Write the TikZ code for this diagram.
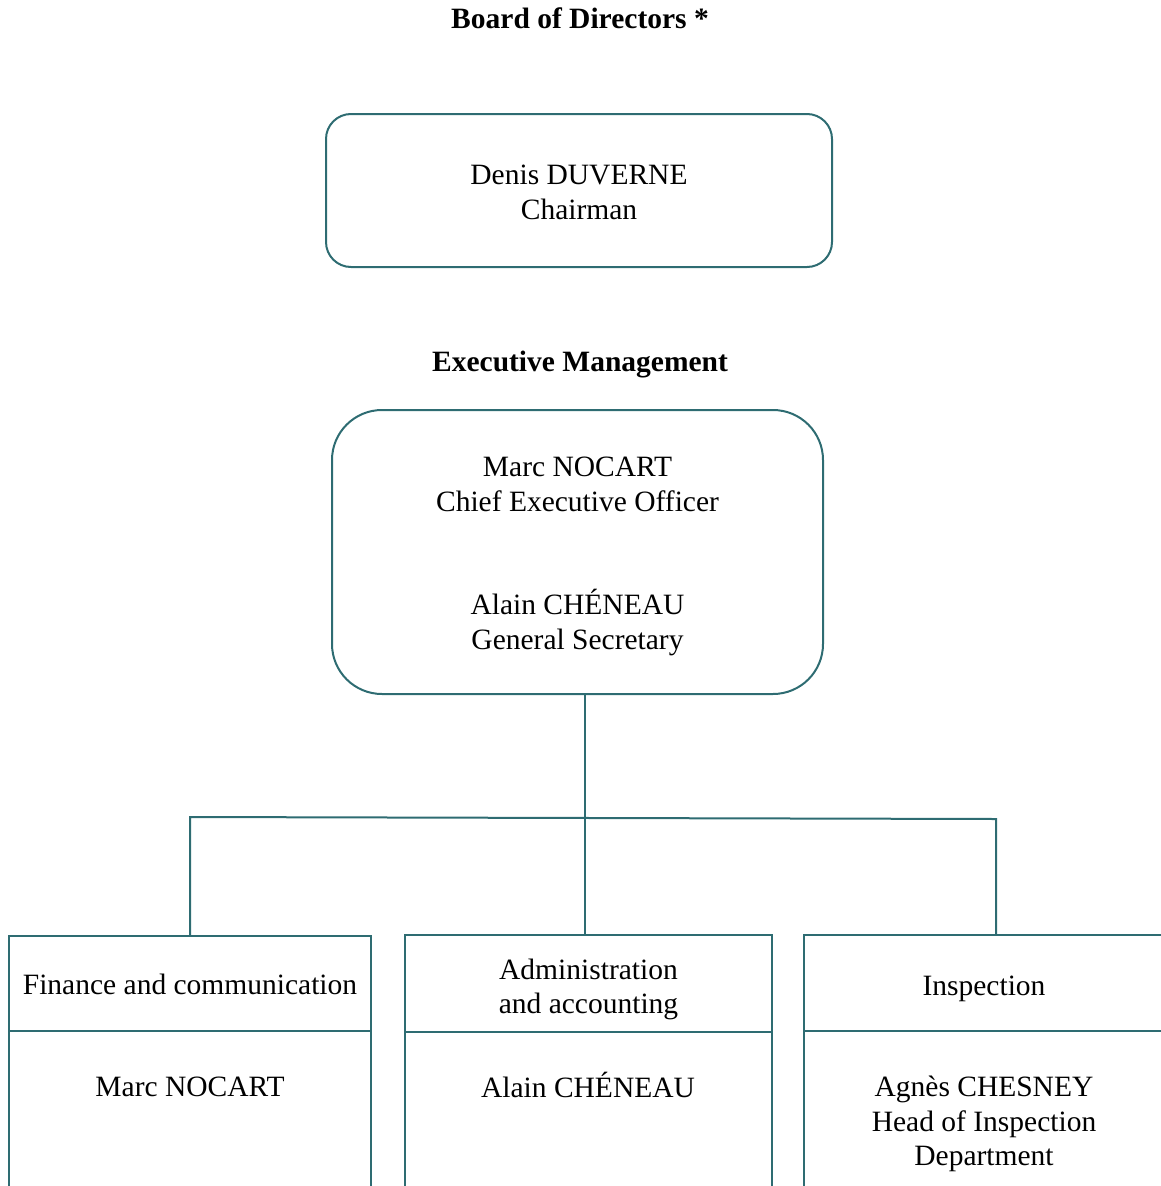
\documentclass[tikz,border=0pt]{standalone}
\usepackage{fontspec}
\setmainfont{Liberation Serif}
\definecolor{lineteal}{RGB}{46,108,114}
\begin{document}
\begin{tikzpicture}[x=1pt,y=-1pt,
  txt/.style={font=\fontsize{29.5}{34.8}\selectfont, align=center, inner sep=0pt},
  ttl/.style={font=\fontsize{29.5}{34.8}\selectfont\bfseries, align=center, inner sep=0pt},
  boxline/.style={draw=lineteal, line width=2pt},
  rbox/.style={boxline, rounded corners=#1},
  sbox/.style={boxline}]
\useasboundingbox (0,0) rectangle (1161,1186);
\clip (0,0) rectangle (1161,1186);

\node[ttl] (board) at (580,18) {Board of Directors *};
\node[rbox=25pt, minimum width=506pt, minimum height=153pt] (chair) at (579,190.5) {};
\node[txt] (chairtxt) at ([yshift=-2pt]chair.center) {Denis DUVERNE\\Chairman};

\node[ttl] (exec) at (580,365) {Executive Management};
\node[rbox=50pt, minimum width=491pt, minimum height=284pt] (ceo) at (577.5,552) {};
\node[txt] (ceotxt) at ([yshift=-4.5pt]ceo.center)
  {Marc NOCART\\Chief Executive Officer\\[69pt]Alain CH\'ENEAU\\General Secretary};

% bottom boxes
\node[sbox, minimum width=362pt, minimum height=95pt] (finh) at (190,983.5) {};
\node[txt] (fintxt) at ([yshift=-1pt]finh.center) {Finance and communication};
\node[sbox, minimum width=362pt, minimum height=200pt] (finb) at (190,1131) {};
\node[txt] (finname) at (190,1087) {Marc NOCART};

\node[sbox, minimum width=367pt, minimum height=97pt] (admh) at (588.5,983.5) {};
\node[txt] (admtxt) at ([yshift=-6pt]admh.center) {Administration\\and accounting};
\node[sbox, minimum width=367pt, minimum height=200pt] (admb) at (588.5,1132) {};
\node[txt] (admname) at (588,1085) {Alain CH\'ENEAU};

\node[sbox, minimum width=360pt, minimum height=96pt] (insh) at (984,983) {};
\node[txt] (instxt) at ([yshift=-6pt]insh.center) {Inspection};
\node[sbox, minimum width=360pt, minimum height=200pt] (insb) at (984,1131) {};
\node[txt] (insname) at (984,1124) {Agn\`es CHESNEY\\Head of Inspection\\Department};

% connectors
\coordinate (jm) at (585,817);
\coordinate (jl) at (190,817);
\coordinate (jr) at (996,819);
\draw[boxline] (jm |- ceo.south) -- (jm |- admh.north);
\draw[boxline] (finh.north) -- (jl) -- (jr) -- (jr |- insh.north);
\end{tikzpicture}
\end{document}
